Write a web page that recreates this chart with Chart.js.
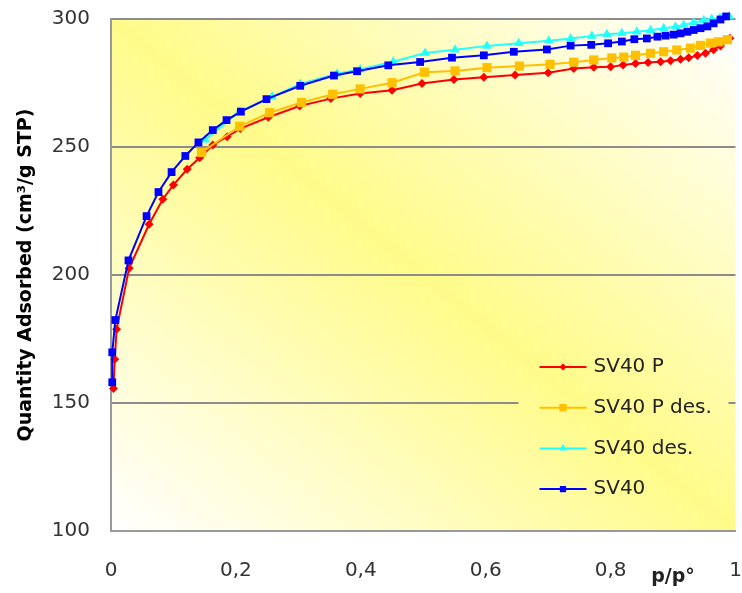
<!DOCTYPE html>
<html>
<head>
<meta charset="utf-8">
<script src="https://cdn.jsdelivr.net/npm/chart.js@4.4.1/dist/chart.umd.min.js"></script>
<style>
  html, body { margin: 0; padding: 0; background: #fff; }
</style>
</head>
<body>
<canvas id="isotherm" width="742" height="593"></canvas>
<script>
// N2 isotherms, relative pressure p/p° against adsorbed volume (cm³/g STP)
const seriesNames = ['SV40 P', 'SV40 P des.', 'SV40 des.', 'SV40'];

const svpAdsX = [0.004, 0.006, 0.009, 0.029, 0.061, 0.083, 0.100, 0.122, 0.142, 0.163,
  0.186, 0.207, 0.252, 0.302, 0.352, 0.399, 0.450, 0.498, 0.549, 0.597,
  0.647, 0.700, 0.741, 0.773, 0.800, 0.820, 0.840, 0.860, 0.880, 0.896,
  0.912, 0.925, 0.939, 0.952, 0.965, 0.976, 0.991];
const svpAdsY = [155.7, 167.1, 178.8, 202.6, 219.8, 229.6, 235.2, 241.3, 245.8, 250.8,
  254.0, 257.2, 261.6, 266.0, 268.9, 270.9, 272.2, 274.8, 276.4, 277.2,
  278.1, 279.0, 280.7, 281.2, 281.3, 282.0, 282.6, 283.0, 283.3, 283.7,
  284.3, 284.9, 285.7, 286.6, 288.0, 289.5, 292.5];

const svpDesX = [0.987, 0.973, 0.960, 0.944, 0.928, 0.906, 0.885, 0.864, 0.840, 0.821,
  0.802, 0.773, 0.741, 0.703, 0.654, 0.602, 0.551, 0.502, 0.450, 0.399,
  0.355, 0.305, 0.254, 0.206, 0.145];
const svpDesY = [291.9, 291.1, 290.6, 289.7, 288.6, 287.9, 287.2, 286.6, 285.8, 285.1,
  284.8, 284.0, 283.1, 282.3, 281.6, 281.0, 279.7, 279.2, 275.1, 272.7,
  270.6, 267.4, 263.4, 258.1, 247.9];

const svDesX = [0.990, 0.975, 0.962, 0.949, 0.933, 0.917, 0.904, 0.885, 0.864, 0.842,
  0.818, 0.794, 0.770, 0.736, 0.701, 0.653, 0.602, 0.551, 0.503, 0.452,
  0.399, 0.362, 0.303, 0.258, 0.205, 0.151];
const svDesY = [301.0, 300.4, 300.0, 299.5, 298.6, 297.7, 297.0, 296.4, 295.6, 295.0,
  294.4, 294.0, 293.4, 292.4, 291.5, 290.5, 289.5, 288.0, 286.7, 283.3,
  280.3, 278.6, 274.6, 269.6, 263.8, 252.8];

const svAdsX = [0.002, 0.002, 0.007, 0.028, 0.057, 0.076, 0.097, 0.119, 0.140, 0.163,
  0.185, 0.208, 0.249, 0.303, 0.357, 0.394, 0.444, 0.495, 0.546, 0.597,
  0.645, 0.698, 0.736, 0.769, 0.796, 0.818, 0.838, 0.858, 0.875, 0.888,
  0.901, 0.912, 0.923, 0.933, 0.944, 0.955, 0.965, 0.976, 0.985];
const svAdsY = [158.1, 169.8, 182.4, 205.7, 223.0, 232.4, 240.2, 246.5, 251.8, 256.6,
  260.5, 263.8, 268.7, 273.9, 277.9, 279.6, 281.9, 283.2, 284.9, 285.8,
  287.2, 288.1, 289.6, 289.9, 290.5, 291.2, 292.1, 292.4, 293.1, 293.5,
  293.9, 294.4, 295.0, 295.7, 296.4, 297.1, 298.3, 299.8, 301.0];

const xTickLabels = ['0', '0,2', '0,4', '0,6', '0,8', '1'];

const FONT = "'DejaVu Sans', Verdana, sans-serif";

function pairs(xs, ys) {
  return xs.map((x, i) => ({ x: x, y: ys[i] }));
}

// white -> yellow -> white, running from the lower left corner to the upper right one
function areaGradient(ctx, a) {
  const w = a.right - a.left, h = a.bottom - a.top;
  const k = 2 * w * h / (w * w + h * h);
  const g = ctx.createLinearGradient(a.left, a.bottom, a.left + h * k, a.bottom - w * k);
  g.addColorStop(0, '#ffffff');
  g.addColorStop(0.5, '#fffb8a');
  g.addColorStop(1, '#ffffff');
  return g;
}

const plotBackground = {
  id: 'plotBackground',
  beforeDraw(chart) {
    const { ctx, chartArea: a } = chart;
    ctx.save();
    ctx.fillStyle = areaGradient(ctx, a);
    ctx.fillRect(a.left, a.top, a.right - a.left, a.bottom - a.top);
    ctx.restore();
  }
};

// legend sits inside the plot, bottom right, on its own patch of background
const insideLegend = {
  id: 'insideLegend',
  afterDatasetsDraw(chart) {
    const { ctx, chartArea: a } = chart;
    ctx.save();
    ctx.fillStyle = areaGradient(ctx, a);
    ctx.fillRect(a.right - 217, a.bottom - 186, 210, 166);

    ctx.font = '20px ' + FONT;
    ctx.textBaseline = 'middle';
    ctx.textAlign = 'left';
    chart.data.datasets.forEach((ds, i) => {
      const y = a.bottom - 164 + i * 40.7;
      const x0 = a.right - 196, x1 = a.right - 149;
      ctx.strokeStyle = ds.borderColor;
      ctx.lineWidth = 2;
      ctx.beginPath();
      ctx.moveTo(x0, y);
      ctx.lineTo(x1, y);
      ctx.stroke();
      ctx.fillStyle = ds.borderColor;
      Chart.helpers.drawPoint(ctx, {
        pointStyle: ds.pointStyle,
        radius: ds.pointRadius * 0.8,
        rotation: 0,
        borderWidth: 0
      }, (x0 + x1) / 2, y);
      ctx.fillStyle = '#222';
      ctx.fillText(ds.label, a.right - 142, y);
    });
    ctx.restore();
  }
};

// x axis title sits between the last two tick labels
const pressureTitle = {
  id: 'pressureTitle',
  afterDraw(chart) {
    const { ctx, chartArea: a } = chart;
    const x = chart.scales.x.getPixelForValue(0.9);
    ctx.save();
    ctx.font = 'bold 19px ' + FONT;
    ctx.fillStyle = '#222';
    ctx.textAlign = 'center';
    ctx.textBaseline = 'alphabetic';
    ctx.fillText('p/p°', x, a.bottom + 51);
    ctx.restore();
  }
};

function series(label, data, color, style, radius, order) {
  return {
    label: label,
    data: data,
    borderColor: color,
    backgroundColor: color,
    borderWidth: 2,
    pointStyle: style,
    pointRadius: radius,
    pointBackgroundColor: color,
    pointBorderWidth: 0,
    tension: 0,
    clip: false,
    order: order
  };
}

new Chart(document.getElementById('isotherm'), {
  type: 'line',
  data: {
    datasets: [
      series(seriesNames[0], pairs(svpAdsX, svpAdsY), '#ff0000', 'rectRot', 4.5, 4),
      series(seriesNames[1], pairs(svpDesX, svpDesY), '#ffc000', 'rect', 6.5, 3),
      series(seriesNames[2], pairs(svDesX, svDesY), '#22ffff', 'triangle', 5.5, 2),
      series(seriesNames[3], pairs(svAdsX, svAdsY), '#0000ff', 'rect', 5.5, 1)
    ]
  },
  options: {
    responsive: false,
    animation: false,
    events: [],
    layout: { padding: { top: 19, right: 0, left: 0, bottom: 0 } },
    plugins: {
      legend: { display: false },
      tooltip: { enabled: false }
    },
    scales: {
      x: {
        type: 'linear',
        min: 0,
        max: 1,
        afterFit: s => { s.height = 62; },
        ticks: {
          stepSize: 0.2,
          padding: 0,
          color: '#333',
          font: { family: FONT, size: 20 },
          callback: (v, i) => xTickLabels[i]
        },
        // no tick marks drawn; tickLength only pushes the labels down
        grid: { display: false, drawTicks: true, tickLength: 28 },
        border: { display: true, color: '#999', width: 2 }
      },
      y: {
        min: 100,
        max: 300,
        afterFit: s => { s.width = 111; },
        ticks: {
          stepSize: 50,
          padding: 0,
          color: '#333',
          font: { family: FONT, size: 20 }
        },
        grid: { color: '#8c8c8c', lineWidth: 2, drawTicks: true, tickLength: 21, tickColor: 'rgba(0,0,0,0)' },
        border: { display: true, color: '#999', width: 2 },
        title: {
          display: true,
          text: 'Quantity Adsorbed (cm³/g STP)',
          color: '#000',
          font: { family: FONT, size: 19, weight: 'bold' },
          padding: { top: 15, bottom: 0 }
        }
      }
    }
  },
  plugins: [plotBackground, insideLegend, pressureTitle]
});
</script>
</body>
</html>
